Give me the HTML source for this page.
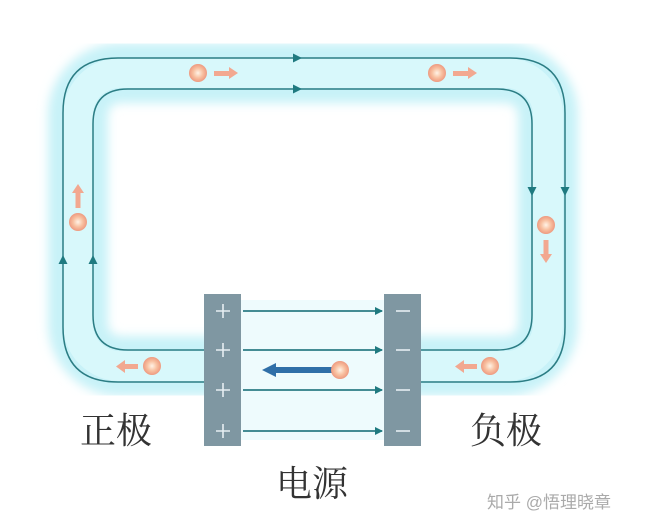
<!DOCTYPE html>
<html><head><meta charset="utf-8"><style>
html,body{margin:0;padding:0;background:#fff;}
svg{display:block;}
.lbl{font-family:"Liberation Serif","Noto Serif CJK SC",serif;font-size:36px;fill:#333;}
.wm{font-family:"Liberation Sans","Noto Sans CJK SC",sans-serif;font-size:17px;fill:#aaa;}
</style></head><body>
<svg width="646" height="528" viewBox="0 0 646 528" xmlns="http://www.w3.org/2000/svg">
<defs>
<filter id="b" x="-10%" y="-10%" width="120%" height="120%"><feGaussianBlur stdDeviation="5"/></filter>
<radialGradient id="e"><stop offset="0" stop-color="#fff3e6"/><stop offset="0.55" stop-color="#f8c0a0"/><stop offset="1" stop-color="#ee9a80"/></radialGradient>
<marker id="ah" markerWidth="8" markerHeight="8" refX="7" refY="4" orient="auto" markerUnits="userSpaceOnUse"><path d="M0,0 L8,4 L0,8 z" fill="#1f7a80"/></marker>
</defs>
<!-- glow band -->
<rect x="78" y="73" width="470" height="293" rx="42" fill="none" stroke="#c8f2f8" stroke-width="60" filter="url(#b)"/>
<rect x="78" y="73" width="470" height="293" rx="42" fill="none" stroke="#d8f8fb" stroke-width="30"/>
<rect x="241" y="300" width="143" height="140" fill="#eefbfd"/>
<!-- wires -->
<path d="M204,382 L118,382 Q63,382 63,327 L63,113 Q63,58 118,58 L510,58 Q565,58 565,113 L565,327 Q565,382 510,382 L421,382" fill="none" stroke="#2b7d84" stroke-width="1.5"/>
<path d="M204,350 L128,350 Q93,350 93,315 L93,124 Q93,89 128,89 L497,89 Q532,89 532,124 L532,315 Q532,350 497,350 L421,350" fill="none" stroke="#2b7d84" stroke-width="1.5"/>
<!-- direction arrowheads -->
<g fill="#1f7a80">
<path d="M302,58 l-9,-4.5 v9 z"/><path d="M302,89 l-9,-4.5 v9 z"/>
<path d="M532,196 l-4.5,-9 h9 z"/><path d="M565,196 l-4.5,-9 h9 z"/>
<path d="M63,255 l-4.5,9 h9 z"/><path d="M93,255 l-4.5,9 h9 z"/>
</g>
<!-- plates -->
<rect x="204" y="294" width="37" height="152" fill="#7f97a2"/>
<rect x="384" y="294" width="37" height="152" fill="#7f97a2"/>
<g stroke="#e6eef2" stroke-width="1.6">
<path d="M216,311h14M223,304v14"/><path d="M216,350h14M223,343v14"/><path d="M216,390h14M223,383v14"/><path d="M216,431h14M223,424v14"/>
<path d="M396,311h14"/><path d="M396,350h14"/><path d="M396,390h14"/><path d="M396,431h14"/>
</g>
<!-- field lines -->
<g stroke="#2b7d84" stroke-width="1.8" marker-end="url(#ah)">
<line x1="243" y1="311" x2="382" y2="311"/><line x1="243" y1="350" x2="382" y2="350"/>
<line x1="243" y1="390" x2="382" y2="390"/><line x1="243" y1="431" x2="382" y2="431"/>
</g>
<!-- blue arrow -->
<rect x="275" y="367" width="58" height="6" fill="#2f6fa8"/>
<path d="M262,370 l14,-7 v14 z" fill="#2f6fa8"/>
<!-- electrons -->
<g fill="url(#e)">
<circle cx="198" cy="73" r="9"/><circle cx="437" cy="73" r="9"/><circle cx="546" cy="225" r="9"/>
<circle cx="490" cy="366" r="9"/><circle cx="152" cy="366" r="9"/><circle cx="78" cy="222" r="9"/><circle cx="340" cy="370" r="9"/>
</g>
<g fill="#f2a890">
<rect x="214" y="71" width="16" height="5"/><path d="M229,67 l9,6 l-9,6z"/>
<rect x="453" y="71" width="16" height="5"/><path d="M468,67 l9,6 l-9,6z"/>
<rect x="543.5" y="240" width="5" height="15"/><path d="M540,254 l6,9 l6,-9z"/>
<rect x="463" y="364" width="14" height="5"/><path d="M464,360 l-9,6.5 l9,6.5z"/>
<rect x="124" y="364" width="14" height="5"/><path d="M125,360 l-9,6.5 l9,6.5z"/>
<rect x="75.5" y="192" width="5" height="16"/><path d="M72,193 l6,-9 l6,9z"/>
</g>
<text class="lbl" x="80" y="443">正极</text>
<text class="lbl" x="470" y="443">负极</text>
<text class="lbl" x="276" y="496">电源</text>
<text class="wm" x="487" y="508">知乎 @悟理晓章</text>
</svg>
</body></html>
